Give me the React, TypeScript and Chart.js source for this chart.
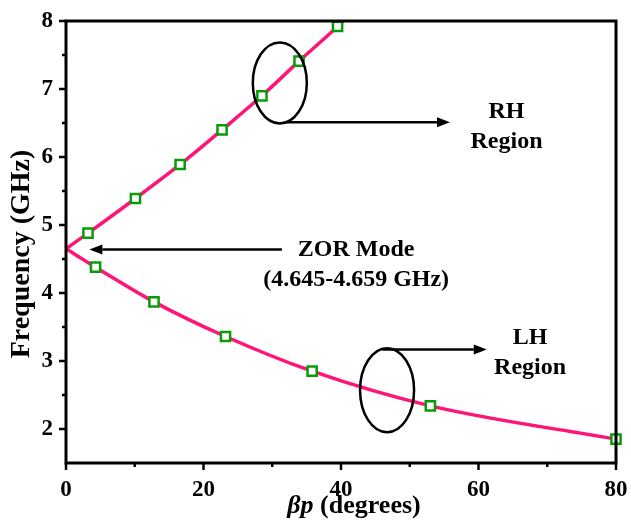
import { useEffect, useRef } from 'react';
import { Chart, registerables } from 'chart.js';

Chart.register(...registerables);

// Dispersion diagram of the CRLH unit cell
const zorBeta = 0;
const zorFreq = 4.65;
const rhBeta = [3.2, 10.1, 16.6, 22.7, 28.5, 33.9, 39.5];
const rhFreq = [4.88, 5.39, 5.89, 6.4, 6.9, 7.41, 7.92];
const rhEndBeta = 40.3;
const rhEndFreq = 8.0;
const lhBeta = [4.3, 12.8, 23.2, 35.8, 53.0, 80];
const lhFreq = [4.38, 3.87, 3.36, 2.85, 2.34, 1.85];

const xMajor = [0, 20, 40, 60, 80];
const xMinor = [10, 30, 50, 70];
const yMajor = [2, 3, 4, 5, 6, 7, 8];
const yMinor = [2.5, 3.5, 4.5, 5.5, 6.5, 7.5];

const SERIF = "'Liberation Serif', 'Times New Roman', serif";
const LINE_COLOR = '#ff1478';
const MARK_COLOR = '#0a9a0a';

const toPts = (xs: number[], ys: number[]) => xs.map((v, i) => ({ x: v, y: ys[i] }));

function drawArrow(ctx: CanvasRenderingContext2D, x0: number, y0: number, x1: number, y1: number) {
  const head = 13;
  const half = 5;
  const dir = Math.sign(x1 - x0);
  ctx.beginPath();
  ctx.moveTo(x0, y0);
  ctx.lineTo(x1 - dir * head, y1);
  ctx.stroke();
  ctx.beginPath();
  ctx.moveTo(x1, y1);
  ctx.lineTo(x1 - dir * head, y1 - half);
  ctx.lineTo(x1 - dir * head, y1 + half);
  ctx.closePath();
  ctx.fill();
}

const decorPlugin = {
  id: 'decor',
  afterDatasetsDraw(chart: any) {
    const { ctx, chartArea, scales } = chart;
    const xs = scales.x;
    const ys = scales.y;
    const px = (v: number) => xs.getPixelForValue(v);
    const py = (v: number) => ys.getPixelForValue(v);
    ctx.save();
    ctx.strokeStyle = '#000';
    ctx.fillStyle = '#000';
    ctx.lineWidth = 2.5;

    // ellipses marking the two regions
    ctx.beginPath();
    ctx.ellipse(px(31.1), py(7.09), 27, 40.5, 0, 0, Math.PI * 2);
    ctx.stroke();
    ctx.beginPath();
    ctx.ellipse(px(46.7), py(2.57), 27, 42, 0, 0, Math.PI * 2);
    ctx.stroke();

    // arrows
    drawArrow(ctx, px(31.85), py(6.51), px(55.85), py(6.51));
    drawArrow(ctx, px(31.4), py(4.64), px(3.4), py(4.64));
    drawArrow(ctx, px(46.0), py(3.17), px(61.2), py(3.17));

    // labels
    ctx.font = `bold 24px ${SERIF}`;
    ctx.textAlign = 'center';
    ctx.textBaseline = 'alphabetic';
    ctx.fillText('RH', px(64.07), py(6.57));
    ctx.fillText('Region', px(64.07), py(6.57) + 30);
    ctx.fillText('ZOR Mode', px(42.2), py(4.54));
    ctx.fillText('(4.645-4.659 GHz)', px(42.2), py(4.54) + 30);
    ctx.fillText('LH', px(67.5), py(3.245));
    ctx.fillText('Region', px(67.5), py(3.245) + 30);

    // frame
    ctx.lineWidth = 3;
    ctx.strokeRect(chartArea.left, chartArea.top, chartArea.right - chartArea.left, chartArea.bottom - chartArea.top);

    // tick marks (outward)
    ctx.lineWidth = 2.5;
    ctx.beginPath();
    xMajor.forEach((v) => { ctx.moveTo(px(v), chartArea.bottom); ctx.lineTo(px(v), chartArea.bottom + 7); });
    xMinor.forEach((v) => { ctx.moveTo(px(v), chartArea.bottom); ctx.lineTo(px(v), chartArea.bottom + 4); });
    yMajor.forEach((v) => { ctx.moveTo(chartArea.left, py(v)); ctx.lineTo(chartArea.left - 7, py(v)); });
    yMinor.forEach((v) => { ctx.moveTo(chartArea.left, py(v)); ctx.lineTo(chartArea.left - 4, py(v)); });
    ctx.stroke();

    // x axis title: βp (degrees)
    const cx = (chartArea.left + chartArea.right) / 2 + 13;
    const base = chartArea.bottom + 50;
    const italic = `italic bold 26px ${SERIF}`;
    const bold = `bold 26px ${SERIF}`;
    ctx.font = italic;
    const w1 = ctx.measureText('\u03b2p ').width;
    ctx.font = bold;
    const w2 = ctx.measureText('(degrees)').width;
    const sx = cx - (w1 + w2) / 2;
    ctx.textAlign = 'left';
    ctx.font = italic;
    ctx.fillText('\u03b2p ', sx, base);
    ctx.font = bold;
    ctx.fillText('(degrees)', sx + w1, base);

    // y axis title
    ctx.save();
    ctx.translate(29, (chartArea.top + chartArea.bottom) / 2 + 12);
    ctx.rotate(-Math.PI / 2);
    ctx.textAlign = 'center';
    ctx.font = `bold 28px ${SERIF}`;
    ctx.fillText('Frequency (GHz)', 0, 0);
    ctx.restore();

    ctx.restore();
  },
};

export default function App() {
  const ref = useRef<HTMLCanvasElement>(null);

  useEffect(() => {
    if (!ref.current) return;
    const rhCurve = [{ x: zorBeta, y: zorFreq }, ...toPts(rhBeta, rhFreq), { x: rhEndBeta, y: rhEndFreq }];
    const lhCurve = [{ x: zorBeta, y: zorFreq }, ...toPts(lhBeta, lhFreq)];
    const markerStyle = {
      showLine: false,
      pointStyle: 'rect' as const,
      pointRadius: 6.5,
      pointBorderWidth: 2.5,
      pointBorderColor: MARK_COLOR,
      pointBackgroundColor: '#ffffff',
      order: 0,
      clip: false as const,
    };
    const lineStyle = {
      borderColor: LINE_COLOR,
      borderWidth: 3.5,
      pointRadius: 0,
      cubicInterpolationMode: 'monotone' as const,
      order: 1,
    };
    const chart = new Chart(ref.current, {
      type: 'scatter',
      data: {
        datasets: [
          { data: toPts(rhBeta, rhFreq), ...markerStyle },
          { data: toPts(lhBeta, lhFreq), ...markerStyle },
          { data: rhCurve, showLine: true, ...lineStyle },
          { data: lhCurve, showLine: true, ...lineStyle },
        ],
      },
      options: {
        animation: false,
        responsive: false,
        layout: { padding: { top: 0, right: 0, left: 0, bottom: 0 } },
        plugins: { legend: { display: false }, tooltip: { enabled: false } },
        scales: {
          x: {
            type: 'linear',
            min: 0,
            max: 80,
            afterFit: (s: any) => { s.height = 69; s.paddingRight = 15; },
            grid: { display: false, drawTicks: false },
            border: { display: false },
            ticks: {
              stepSize: 20,
              padding: 13,
              color: '#000',
              font: { family: SERIF, size: 23, weight: 'bold' },
              maxRotation: 0,
            },
          },
          y: {
            type: 'linear',
            min: 1.5,
            max: 8,
            afterFit: (s: any) => { s.width = 66; s.paddingTop = 21; },
            grid: { display: false, drawTicks: false },
            border: { display: false },
            ticks: {
              stepSize: 0.5,
              padding: 13,
              color: '#000',
              font: { family: SERIF, size: 23, weight: 'bold' },
              callback: (v: any) => (Number.isInteger(v) ? String(v) : ''),
            },
          },
        },
      },
      plugins: [decorPlugin],
    });
    return () => chart.destroy();
  }, []);

  return (
    <div style={{ position: 'absolute', left: 0, top: 0, width: 631, height: 532, background: '#fff' }}>
      <canvas ref={ref} width={631} height={532} style={{ display: 'block' }} />
    </div>
  );
}
